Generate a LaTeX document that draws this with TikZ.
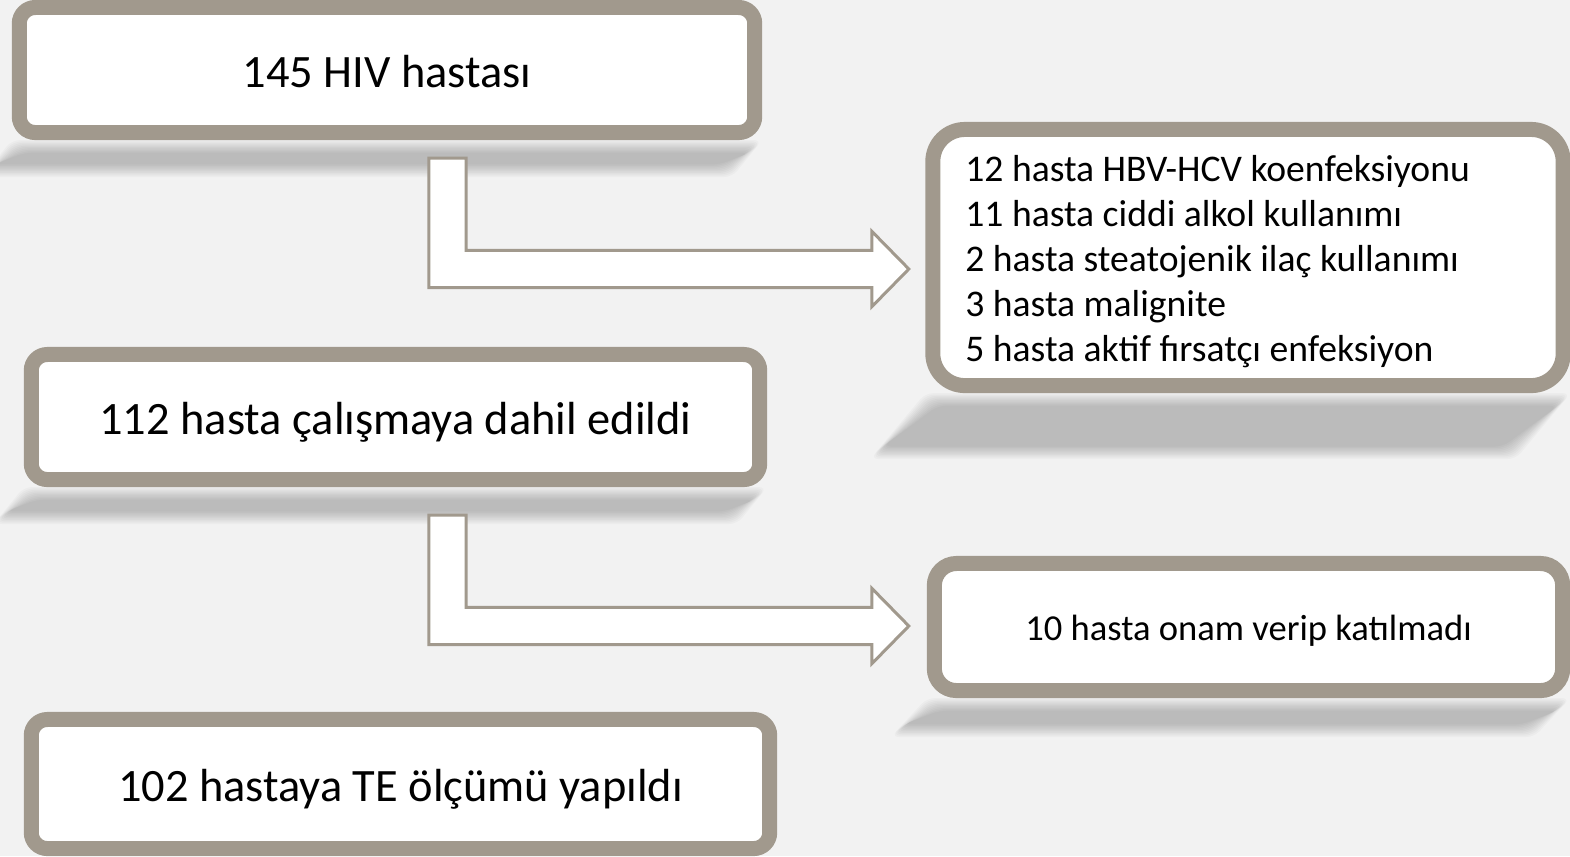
\documentclass[tikz,border=0pt]{standalone}
\usepackage{fontspec}
\setmainfont{Carlito}
\usetikzlibrary{calc,positioning}
\definecolor{frame}{HTML}{A1998D}
\definecolor{paper}{HTML}{F2F2F2}
\pgfdeclarelayer{back}
\pgfdeclarelayer{shade}
\pgfsetlayers{back,shade,main}
\def\sw{5.3pt}
\def\hl{10.5pt}
\def\hh{10.7pt}
\newcommand{\bentarrow}[2]{%
  \draw[blockarrow] let \p1=(#1), \p2=(#2) in
    (\x1-\sw,\y1) -- (\x1+\sw,\y1) -- (\x1+\sw,\y2+\sw) -- (\x2-\hl,\y2+\sw)
    -- (\x2-\hl,\y2+\hh) -- (\x2,\y2) -- (\x2-\hl,\y2-\hh) -- (\x2-\hl,\y2-\sw)
    -- (\x1-\sw,\y2-\sw) -- cycle;}
\newcommand{\boxshadow}[3]{%
  \begin{pgfonlayer}{shade}
  \foreach \i in {0,...,9} {
    \pgfmathsetmacro{\e}{1.4*\i}
    \fill[shadowtone]
      ([shift={(\e,\e)}]#1.south west) -- ([shift={(-\e,\e)}]#1.south east)
      -- ([shift={(-#3-\e,#2-\e)}]#1.south east) -- ([shift={(-#3+\e,#2-\e)}]#1.south west) -- cycle;
  }
  \end{pgfonlayer}}

\begin{document}
\begin{tikzpicture}[x=0.01cm, y=-0.01cm,
  flowbox/.style={draw=frame, line width=0.15cm, fill=white, rounded corners=0.16cm,
    inner sep=0pt, text height=0.35cm, text depth=0pt, font=\fontsize{13.2}{16}\selectfont},
  blockarrow/.style={draw=frame, line width=0.03cm, fill=white},
  shadowtone/.style={fill=black, opacity=0.022, rounded corners=0.08cm}]
\useasboundingbox (0,0) rectangle (1570,856);
\begin{pgfonlayer}{back}
\fill[paper] (0,0) rectangle (1570,856);
\end{pgfonlayer}

\node[flowbox, minimum width=7.35cm, minimum height=1.25cm] (hiv) at (387,70) {145 HIV hastası};
\node[flowbox, rounded corners=0.32cm, minimum height=2.56cm, inner xsep=0.325cm, text width=5.65cm,
  text height=, text depth=, align=left, font=\fontsize{10.7}{12.8}\selectfont] (excl) at (1248,257.5)
  {\spaceskip=0pt\xspaceskip=0pt
   \begin{tabular}{@{}l@{}}
   \rule{0pt}{0.42cm}12 hasta HBV-HCV koenfeksiyonu\\ 11 hasta ciddi alkol kullanımı\\
   2 hasta steatojenik ilaç kullanımı\\ 3 hasta malignite\\
   5 hasta aktif fırsatçı enfeksiyon
   \end{tabular}};
\node[flowbox, minimum width=7.28cm, minimum height=1.25cm] (incl) at (395.5,417) {112 hasta çalışmaya dahil edildi};
\node[flowbox, rounded corners=0.22cm, minimum width=6.28cm, minimum height=1.27cm,
  text height=0.26cm, font=\fontsize{10.4}{12.8}\selectfont] (refuse) at (1248.5,627)
  {10 hasta onam verip katılmadı};
\node[flowbox, minimum width=7.38cm, minimum height=1.29cm] (te) at (400.5,784) {102 hastaya TE ölçümü yapıldı};

\boxshadow{hiv}{37}{30}
\boxshadow{excl}{66}{55}
\boxshadow{incl}{37}{30}
\boxshadow{refuse}{39}{36}

\coordinate (a1top) at ($(hiv.south)+(60.5,18)$);
\coordinate (a1tip) at ($(excl.west)+(-16.5,11.5)$);
\coordinate (a2top) at ($(incl.south)+(52,28)$);
\coordinate (a2tip) at ($(refuse.west)+(-18,-1)$);
\bentarrow{a1top}{a1tip}
\bentarrow{a2top}{a2tip}
\end{tikzpicture}
\end{document}
